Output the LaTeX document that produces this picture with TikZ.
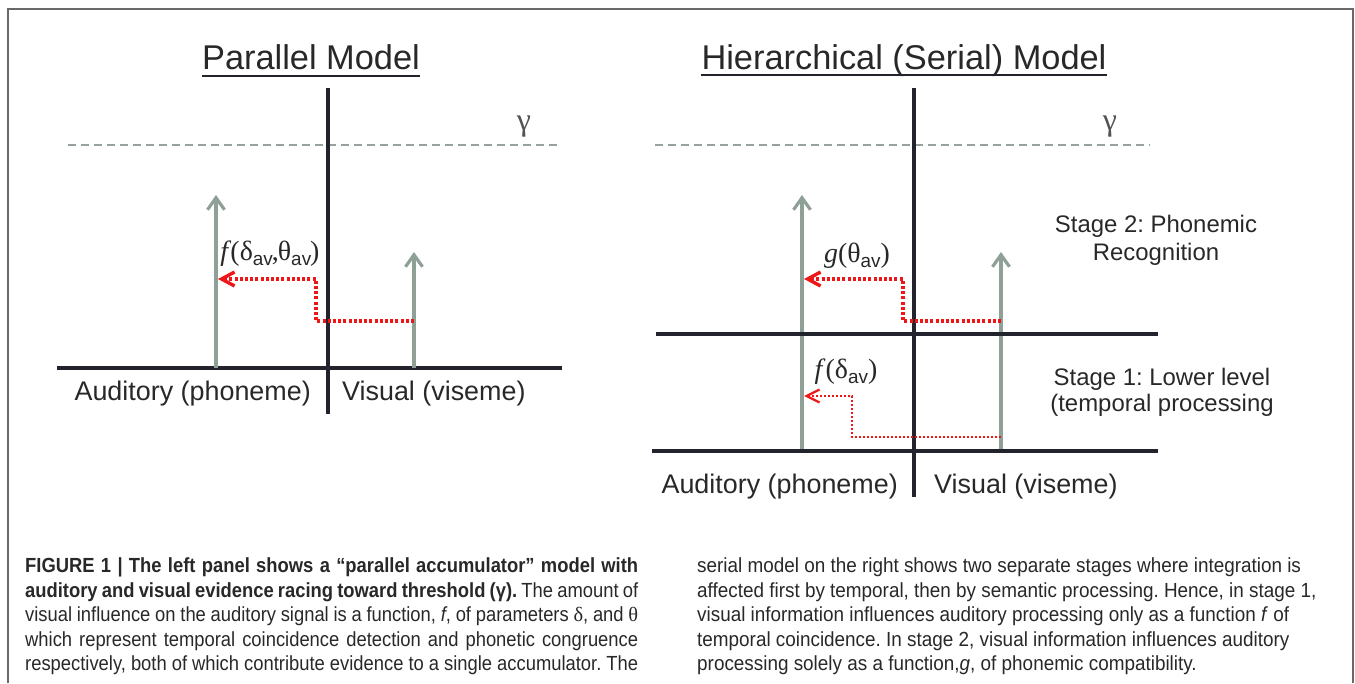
\documentclass[tikz,border=0pt]{standalone}
\usepackage{fontspec}
\setmainfont{Liberation Sans}
\newfontfamily\seriff{Liberation Serif}
\newfontfamily\sansf{Liberation Sans}
\newfontfamily\capfont[FakeStretch=0.925]{Liberation Sans}
\newfontfamily\capfontL[FakeStretch=0.9]{Liberation Sans}
\usetikzlibrary{arrows.meta,calc}
\frenchspacing
\definecolor{axisc}{RGB}{35,35,45}
\definecolor{grayarr}{RGB}{143,160,150}
\definecolor{dashc}{RGB}{150,162,155}
\definecolor{redc}{RGB}{238,22,22}
\definecolor{framec}{RGB}{105,105,105}
\definecolor{txtc}{RGB}{40,40,40}
\newcommand{\avsub}{\raisebox{-5bp}{\fontsize{19}{19}\selectfont\sansf av}}
\newcommand{\jline}[1]{\makebox[613bp][s]{\capfontL\spaceskip=4.6bp plus 6bp minus 2bp #1}}
\tikzset{
  axisline/.style={draw=axisc, line width=3.2bp},
  thresh/.style={draw=dashc, line width=1.9bp, dash pattern=on 8bp off 5bp},
  accum/.style={draw=grayarr, line width=3.2bp, -{Straight Barb[length=12bp,width=17bp]}},
  infl/.style={draw=redc, line width=3.4bp, dash pattern=on 3bp off 2.2bp, sharp corners, -{Straight Barb[length=13bp,width=14bp]}},
  inflthin/.style={draw=redc, line width=2.3bp, dash pattern=on 2.2bp off 1.8bp, sharp corners, -{Straight Barb[length=13bp,width=13bp]}},
  titletxt/.style={inner sep=0, text=txtc, font=\fontsize{34.5}{40}\selectfont},
  axistxt/.style={inner sep=0, text=txtc, font=\fontsize{27}{32}\selectfont},
  stagetxt/.style={inner sep=0, text=txtc, font=\fontsize{24}{28}\selectfont},
  gammatxt/.style={inner sep=0, text=txtc!80, font=\seriff\fontsize{32}{36}\selectfont},
  fnlabel/.style={inner sep=0, text=txtc, font=\seriff\fontsize{28}{32}\selectfont},
  capline/.style={inner sep=0, anchor=base west, text=txtc, font=\capfont\fontsize{20.5}{24}\selectfont},
}
\begin{document}
\begin{tikzpicture}[x=1bp,y=-1bp]
\useasboundingbox (0,0) rectangle (1355,683);
% frame
\draw[framec, line width=1.8bp] (8,683) -- (8,9) -- (1353,9) -- (1353,683);

% ===== Left panel: Parallel model =====
\node[titletxt, anchor=base] (ptitle) at (311,70) {Parallel Model};
\draw[axisc, line width=2.4bp] ($(ptitle.base west)+(0,6)$) -- ($(ptitle.base east)+(0,6)$);
\coordinate (pvtop) at (328,88);
\coordinate (pvbot) at (328,414);
\coordinate (phl) at (57,368);
\coordinate (phr) at (562,368);
\coordinate (pdl) at (68,145);
\coordinate (pdr) at (562,145);
\draw[thresh] (pdl) -- (pdr);
\draw[axisline] (pvtop) -- (pvbot);
\draw[axisline] (phl) -- (phr);
\node[gammatxt, anchor=base] (pgamma) at (524,131) {γ};
\coordinate (pa0) at (216,368);
\coordinate (pa1) at (216,195);
\coordinate (pv0) at (414,368);
\coordinate (pv1) at (414,252);
\draw[accum] (pa0) -- (pa1);
\draw[accum] (pv0) -- (pv1);
\coordinate (pr0) at (414,321);
\coordinate (pr1) at (316,279);
\coordinate (pr2) at (218,279);
\draw[infl] (pr0) -| (pr1) -- (pr2);
\node[fnlabel, anchor=base] (pflab) at (270,260) {\textit{f}\kern-1bp(δ\avsub\kern-1bp,\kern-1bpθ\avsub\kern-1bp)};
\node[axistxt, anchor=base east] (paud) at (311,400) {Auditory (phoneme)};
\node[axistxt, anchor=base west] (pvis) at (342,400) {Visual (viseme)};

% ===== Right panel: Hierarchical model =====
\node[titletxt, anchor=base] (htitle) at (904,70) {Hierarchical (Serial) Model};
\draw[axisc, line width=2.4bp] ($(htitle.base west)+(0,5)$) -- ($(htitle.base east)+(0,5)$);
\coordinate (hvtop) at (914,88);
\coordinate (hvbot) at (914,497);
\coordinate (hml) at (656,334);
\coordinate (hmr) at (1158,334);
\coordinate (hbl) at (652,451);
\coordinate (hbr) at (1158,451);
\coordinate (hdl) at (655,145);
\coordinate (hdr) at (1150,145);
\draw[thresh] (hdl) -- (hdr);
\node[gammatxt, anchor=base] (hgamma) at (1110,131) {γ};
\coordinate (ha0) at (802,451);
\coordinate (ha1) at (802,195);
\coordinate (hv0) at (1001,451);
\coordinate (hv1) at (1001,252);
\draw[accum] (ha0) -- (ha1);
\draw[accum] (hv0) -- (hv1);
\draw[axisline] (hvtop) -- (hvbot);
\draw[axisline] (hml) -- (hmr);
\draw[axisline] (hbl) -- (hbr);
\coordinate (hr0) at (1001,321);
\coordinate (hr1) at (903,279);
\coordinate (hr2) at (804,279);
\draw[infl] (hr0) -| (hr1) -- (hr2);
\coordinate (hs0) at (1001,437);
\coordinate (hs1) at (852,396);
\coordinate (hs2) at (804,396);
\draw[inflthin] (hs0) -| (hs1) -- (hs2);
\node[fnlabel, anchor=base] (hglab) at (857,262) {\textit{g}(θ\avsub)};
\node[fnlabel, anchor=base] (hflab) at (846,378) {\textit{f}(δ\avsub)};
\node[stagetxt, anchor=base] (s2a) at (1156,232) {Stage 2: Phonemic};
\node[stagetxt, anchor=base] (s2b) at (1156,260) {Recognition};
\node[stagetxt, anchor=base] (s1a) at (1162,385) {Stage 1: Lower level};
\node[stagetxt, anchor=base] (s1b) at (1162,411) {(temporal processing};
\node[axistxt, anchor=base east] (haud) at (898,493) {Auditory (phoneme)};
\node[axistxt, anchor=base west] (hvis) at (934,493) {Visual (viseme)};

% ===== Caption =====
\node[capline] (c1) at (25,572) {\jline{\textbf{FIGURE 1 | The left panel shows a “parallel accumulator” model with}}};
\node[capline] (c2) at (25,597) {\jline{\textbf{auditory and visual evidence racing toward threshold (γ).} The amount of}};
\node[capline] (c3) at (25,621) {\jline{visual influence on the auditory signal is a function, \textit{f}, of parameters {\seriff δ}, and {\seriff θ}}};
\node[capline] (c4) at (25,646) {\jline{which represent temporal coincidence detection and phonetic congruence}};
\node[capline] (c5) at (25,670) {\jline{respectively, both of which contribute evidence to a single accumulator. The}};
\node[capline] (d1) at (697,572) {serial model on the right shows two separate stages where integration is};
\node[capline] (d2) at (697,597) {affected first by temporal, then by semantic processing. Hence, in stage 1,};
\node[capline] (d3) at (697,621) {visual information influences auditory processing only as a function \textit{f} of};
\node[capline] (d4) at (697,646) {temporal coincidence. In stage 2, visual information influences auditory};
\node[capline] (d5) at (697,670) {processing solely as a function,\textit{g}, of phonemic compatibility.};
\end{tikzpicture}
\end{document}
